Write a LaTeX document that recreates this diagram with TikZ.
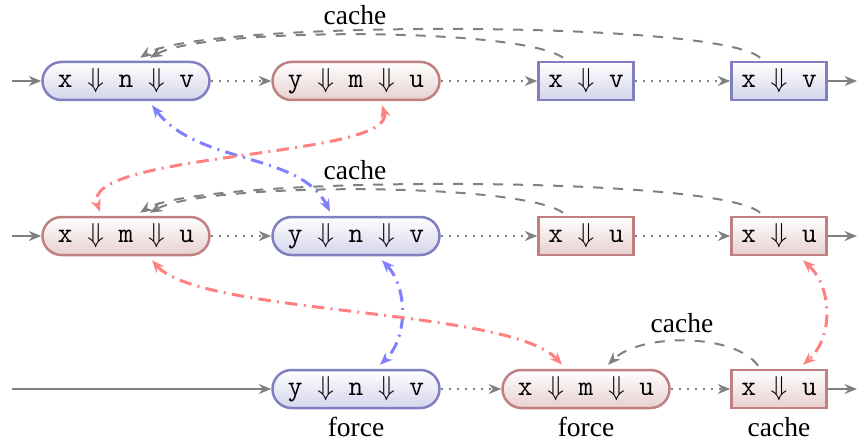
\documentclass[tikz,border=0pt]{standalone}
\usepackage{fontspec}
\setmainfont{Liberation Serif}
\usetikzlibrary{arrows.meta,calc}

\definecolor{bbord}{RGB}{128,128,192}
\definecolor{rbord}{RGB}{192,128,128}
\definecolor{bfill}{RGB}{212,212,236}
\definecolor{rfill}{RGB}{232,208,208}
\definecolor{barrow}{RGB}{128,128,255}
\definecolor{rarrow}{RGB}{255,128,128}
\definecolor{garrow}{RGB}{128,128,128}

\begin{document}
\begin{tikzpicture}[x=0.4pt,y=-0.4pt,
 box/.style={line width=1pt, minimum height=15.2pt, inner sep=0pt, font=\ttfamily\fontsize{11.4}{13}\selectfont},
 longbox/.style={box, rounded corners=7.6pt, minimum width=66.8pt},
 shortbox/.style={box, minimum width=38pt},
 bluebox/.style={draw=bbord, top color=white, bottom color=bfill},
 redbox/.style={draw=rbord, top color=white, bottom color=rfill},
 tip/.style={-{Stealth[length=5pt,width=4pt]}},
 flow/.style={draw=garrow, line width=0.8pt, tip},
 seq/.style={flow, dash pattern=on 0.8pt off 2.4pt},
 cachearc/.style={flow, dash pattern=on 4pt off 4pt},
 link/.style={line width=1.2pt, dash pattern=on 5pt off 2.5pt on 0.8pt off 2.5pt, {Stealth[length=5pt,width=4pt]}-{Stealth[length=5pt,width=4pt]}},
 lab/.style={font=\fontsize{11}{13}\selectfont}
]
\useasboundingbox (0,0) rectangle (858,439);

% Row 1
\node[longbox,bluebox] (A1) at (126,81) {x $\Downarrow$ n $\Downarrow$ v};
\node[longbox,redbox] (B1) at (356,81) {y $\Downarrow$ m $\Downarrow$ u};
\node[shortbox,bluebox] (C1) at (586,81) {x $\Downarrow$ v};
\node[shortbox,bluebox] (D1) at (779,81) {x $\Downarrow$ v};
\coordinate (in1) at (12,81);
\coordinate (out1) at (857,81);

% Row 2
\node[longbox,redbox] (A2) at (126,236) {x $\Downarrow$ m $\Downarrow$ u};
\node[longbox,bluebox] (B2) at (356,236) {y $\Downarrow$ n $\Downarrow$ v};
\node[shortbox,redbox] (C2) at (586,236) {x $\Downarrow$ u};
\node[shortbox,redbox] (D2) at (779,236) {x $\Downarrow$ u};
\coordinate (in2) at (12,236);
\coordinate (out2) at (857,236);

% Row 3
\node[longbox,bluebox] (B3) at (356,389) {y $\Downarrow$ n $\Downarrow$ v};
\node[longbox,redbox] (C3) at (586,389) {x $\Downarrow$ m $\Downarrow$ u};
\node[shortbox,redbox] (D3) at (779,389) {x $\Downarrow$ u};
\coordinate (in3) at (12,389);
\coordinate (out3) at (857,389);

% sequence connectors
\draw[flow] (in1) -- (A1);
\draw[seq] (A1) -- (B1);
\draw[seq] (B1) -- (C1);
\draw[seq] (C1) -- (D1);
\draw[flow] (D1) -- (out1);

\draw[flow] (in2) -- (A2);
\draw[seq] (A2) -- (B2);
\draw[seq] (B2) -- (C2);
\draw[seq] (C2) -- (D2);
\draw[flow] (D2) -- (out2);

\draw[flow] (in3) -- (B3);
\draw[seq] (B3) -- (C3);
\draw[seq] (C3) -- (D3);
\draw[flow] (D3) -- (out3);

% cache arcs row 1
\draw[cachearc] ($(C1.north)+(-23,-3)$) .. controls (520,27) and (205,27) .. ($(A1.north)+(24,-3)$);
\draw[cachearc] ($(D1.north)+(-19,-3)$) .. controls (720,20) and (200,20) .. ($(A1.north)+(14,-3)$);
\node[lab] (L1) at (355,15) {cache};

% cache arcs row 2
\draw[cachearc] ($(C2.north)+(-23,-3)$) .. controls (520,182) and (205,182) .. ($(A2.north)+(24,-3)$);
\draw[cachearc] ($(D2.north)+(-19,-3)$) .. controls (720,175) and (200,175) .. ($(A2.north)+(14,-3)$);
\node[lab] (L2) at (355,170) {cache};

% cache arc row 3
\draw[cachearc] ($(D3.north)+(-21,-3)$) .. controls (735,333) and (640,333) .. ($(C3.north)+(22,-4)$);
\node[lab] (L3) at (682,323) {cache};

% labels under row 3
\node[lab] (F1) at (356,427) {force};
\node[lab] (F2) at (586,427) {force};
\node[lab] (F3) at (779,427) {cache};

% coloured links
\draw[link, barrow] ($(A1.south)+(26,4)$) .. controls (198,165) and (300,152) .. ($(B2.north)+(-26,-4)$);
\draw[link, rarrow] ($(B1.south)+(26,4)$) .. controls (398,158) and (78,152) .. ($(A2.north)+(-26,-4)$);
\draw[link, barrow] ($(B2.south)+(26,4)$) .. controls (408,288) and (408,338) .. ($(B3.north)+(24,-4)$);
\draw[link, rarrow] ($(A2.south)+(26,4)$) .. controls (200,315) and (510,308) .. ($(C3.north)+(-24,-4)$);
\draw[link, rarrow] ($(D2.south)+(24,4)$) .. controls (833,288) and (833,338) .. ($(D3.north)+(24,-4)$);
\end{tikzpicture}
\end{document}
